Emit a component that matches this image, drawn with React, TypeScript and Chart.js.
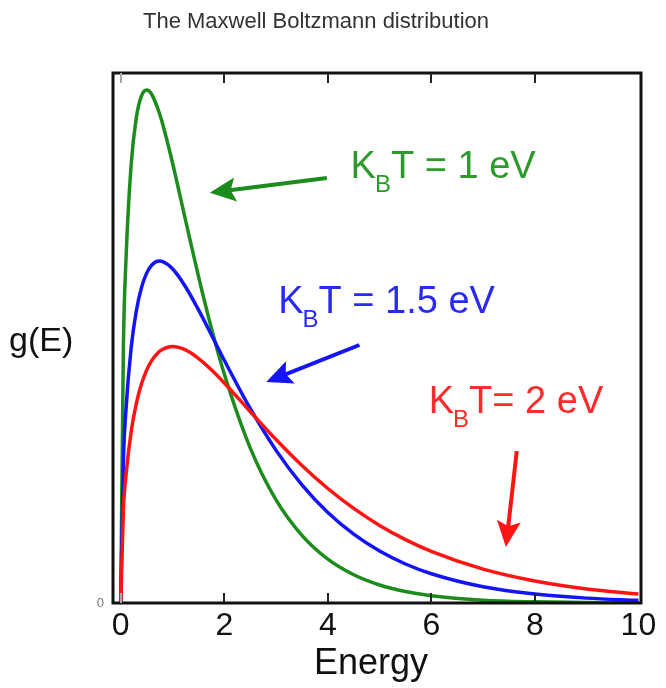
import React, { useEffect, useRef } from "react";
import { Chart, registerables } from "chart.js";
Chart.register(...registerables);

// Energy (eV) sample positions read along the x axis
const energy = [0, 0.05, 0.1, 0.2, 0.3, 0.4, 0.5, 0.6, 0.75, 0.8, 1.0, 1.25, 1.5, 1.75, 2, 2.5, 3, 3.5, 4, 4.5, 5, 5.5, 6, 7, 8, 9, 10];
// g(E) for kBT = 1 eV (green)
const gKT1 = [0, 0.24, 0.3229, 0.4131, 0.4578, 0.4784, 0.4839, 0.4797, 0.4616, 0.4535, 0.4151, 0.3614, 0.3084, 0.2594, 0.216, 0.1464, 0.0973, 0.0638, 0.0413, 0.0266, 0.017, 0.0108, 0.0069, 0.0027, 0.0011, 0.0004, 0.0002];
// g(E) for kBT = 1.5 eV (blue)
const gKT15 = [0, 0.1328, 0.1817, 0.2404, 0.2754, 0.2975, 0.3112, 0.3189, 0.3226, 0.3223, 0.3153, 0.2984, 0.2768, 0.2531, 0.229, 0.1835, 0.144, 0.1114, 0.0853, 0.0649, 0.049, 0.0368, 0.0276, 0.0153, 0.0084, 0.0046, 0.0025];
// g(E) for kBT = 2 eV (red)
const gKT2 = [0, 0.087, 0.12, 0.1614, 0.1881, 0.2066, 0.2197, 0.2289, 0.2375, 0.2392, 0.242, 0.2388, 0.2308, 0.22, 0.2076, 0.1807, 0.1542, 0.1297, 0.108, 0.0892, 0.0732, 0.0598, 0.0487, 0.0319, 0.0207, 0.0133, 0.0085];

const xTicks = [0, 2, 4, 6, 8, 10];
const yTicks = [0];
const chartTitle = "The Maxwell Boltzmann distribution";
const xTitle = "Energy";
const yTitle = "g(E)";

const GREEN = "#1c8c1c";
const BLUE = "#1414f5";
const RED = "#ff1414";

const labels = [
  { rest: "T = 1 eV", color: "#2c9a2c", at: [4.44, 0.401], tail: [3.98, 0.401], tip: [1.72, 0.387], line: GREEN },
  { rest: "T = 1.5 eV", color: "#2a2af5", at: [3.04, 0.2736], tail: [4.61, 0.2434], tip: [2.81, 0.2085], line: BLUE },
  { rest: "T= 2 eV", color: "#ff2a2a", at: [5.95, 0.1792], tail: [7.65, 0.1434], tip: [7.44, 0.0528], line: RED },
];

const FONT = "'Liberation Sans', Arial, Helvetica, sans-serif";

const decor = {
  id: "decor",
  afterDraw(chart: any) {
    const { ctx, chartArea: a, scales } = chart;
    const xs = scales.x;
    const ys = scales.y;
    ctx.save();
    // frame
    ctx.strokeStyle = "#111";
    ctx.lineWidth = 3;
    ctx.strokeRect(a.left, a.top, a.right - a.left, a.bottom - a.top);
    // inward ticks
    ctx.lineWidth = 2;
    for (const t of xTicks) {
      if (t === 10) continue;
      const px = Math.round(xs.getPixelForValue(t));
      ctx.strokeStyle = t === 0 ? "#aaa" : "#222";
      ctx.beginPath();
      ctx.moveTo(px, a.bottom);
      ctx.lineTo(px, a.bottom - 10);
      ctx.moveTo(px, a.top);
      ctx.lineTo(px, a.top + 10);
      ctx.stroke();
    }
    // titles
    ctx.fillStyle = "#333";
    ctx.font = `22px ${FONT}`;
    ctx.textAlign = "center";
    ctx.textBaseline = "alphabetic";
    ctx.fillText(chartTitle, 316, 28);
    ctx.fillStyle = "#111";
    ctx.font = `36px ${FONT}`;
    ctx.fillText(xTitle, 371, 674);
    ctx.font = `34px ${FONT}`;
    ctx.textAlign = "left";
    ctx.fillText(yTitle, 9, 351);
    // annotations
    for (const l of labels) {
      const tx = xs.getPixelForValue(l.at[0]);
      const ty = ys.getPixelForValue(l.at[1]);
      ctx.fillStyle = l.color;
      ctx.textAlign = "left";
      ctx.font = `38px ${FONT}`;
      ctx.fillText("K", tx, ty);
      let w = ctx.measureText("K").width;
      ctx.font = `24px ${FONT}`;
      ctx.fillText("B", tx + w - 1, ty + 14);
      w += ctx.measureText("B").width - 1;
      ctx.font = `38px ${FONT}`;
      ctx.fillText(l.rest, tx + w, ty);
      // arrow
      const x1 = xs.getPixelForValue(l.tail[0]);
      const y1 = ys.getPixelForValue(l.tail[1]);
      const x2 = xs.getPixelForValue(l.tip[0]);
      const y2 = ys.getPixelForValue(l.tip[1]);
      const ang = Math.atan2(y2 - y1, x2 - x1);
      const hl = 26, hw = 12;
      const bx = x2 - hl * Math.cos(ang);
      const by = y2 - hl * Math.sin(ang);
      ctx.strokeStyle = l.line;
      ctx.fillStyle = l.line;
      ctx.lineWidth = 4;
      ctx.beginPath();
      ctx.moveTo(x1, y1);
      ctx.lineTo(bx + 6 * Math.cos(ang), by + 6 * Math.sin(ang));
      ctx.stroke();
      ctx.beginPath();
      ctx.moveTo(x2, y2);
      ctx.lineTo(bx - hw * Math.sin(ang), by + hw * Math.cos(ang));
      ctx.lineTo(bx + 5 * Math.cos(ang), by + 5 * Math.sin(ang));
      ctx.lineTo(bx + hw * Math.sin(ang), by - hw * Math.cos(ang));
      ctx.closePath();
      ctx.fill();
    }
    ctx.restore();
  },
};

export default function App() {
  const ref = useRef<HTMLCanvasElement | null>(null);
  useEffect(() => {
    if (!ref.current) return;
    const mk = (vals: number[]) => energy.map((e, i) => ({ x: e, y: vals[i] }));
    const ds = (label: string, vals: number[], color: string) => ({
      label,
      data: mk(vals),
      borderColor: color,
      backgroundColor: color,
      borderWidth: 3.5,
      pointRadius: 0,
      cubicInterpolationMode: "monotone" as const,
      fill: false,
    });
    const chart = new Chart(ref.current, {
      type: "line",
      data: {
        datasets: [
          ds("kBT = 2 eV", gKT2, RED),
          ds("kBT = 1.5 eV", gKT15, BLUE),
          ds("kBT = 1 eV", gKT1, GREEN),
        ],
      },
      options: {
        animation: false,
        responsive: true,
        maintainAspectRatio: false,
        layout: { padding: { top: 73, right: 25, left: 0, bottom: 0 } },
        plugins: { legend: { display: false }, tooltip: { enabled: false }, title: { display: false } },
        scales: {
          x: {
            type: "linear",
            min: -0.15,
            max: 10.05,
            grid: { display: false, drawTicks: false },
            border: { display: false },
            afterBuildTicks: (s: any) => { s.ticks = xTicks.map((v) => ({ value: v })); },
            afterFit: (s: any) => { s.height = 85; },
            ticks: {
              autoSkip: false,
              maxRotation: 0,
              padding: 4,
              color: "#111",
              font: { family: FONT, size: 32 },
            },
          },
          y: {
            type: "linear",
            min: 0,
            max: 0.5,
            grid: { display: false, drawTicks: false },
            border: { display: false },
            afterBuildTicks: (s: any) => { s.ticks = yTicks.map((v) => ({ value: v })); },
            afterFit: (s: any) => { s.width = 113; },
            ticks: {
              padding: 9,
              color: "#777",
              font: { family: FONT, size: 13 },
            },
          },
        },
      },
      plugins: [decor],
    });
    return () => chart.destroy();
  }, []);
  return (
    <div style={{ position: "absolute", left: 0, top: 0, width: 666, height: 688, background: "#fff" }}>
      <canvas ref={ref} />
    </div>
  );
}
